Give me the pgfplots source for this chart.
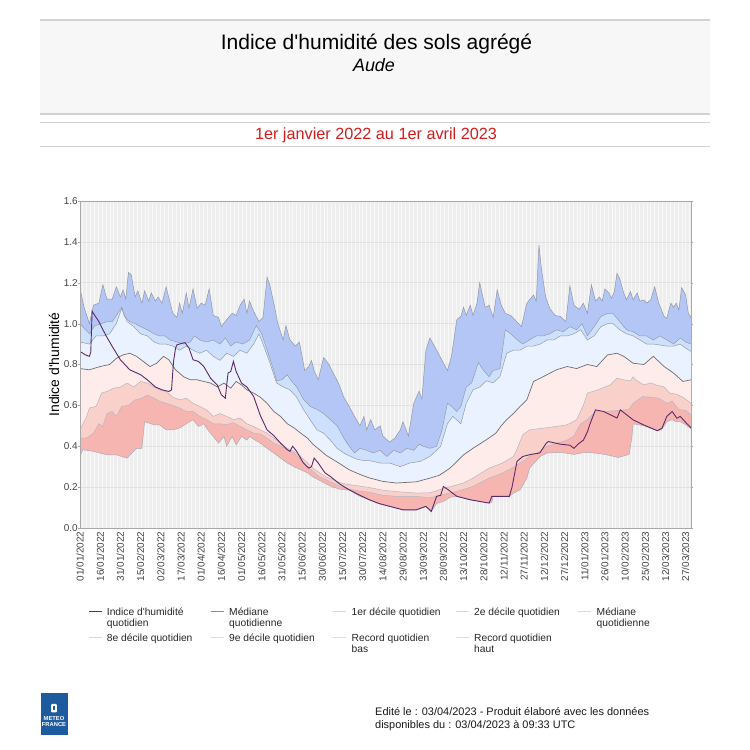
\documentclass[border=0pt]{standalone}
\usepackage{fontspec}
\setmainfont{Liberation Sans}
\usepackage{pgfplots}
\usepackage{pgfplotstable}
\pgfplotsset{compat=1.18}
\usepgfplotslibrary{fillbetween}

\definecolor{bandA}{HTML}{B4C6F5}
\definecolor{bandB}{HTML}{CDE1FF}
\definecolor{bandC}{HTML}{EAF2FF}
\definecolor{bandD}{HTML}{FDECEA}
\definecolor{bandE}{HTML}{FAD0CB}
\definecolor{bandF}{HTML}{F7B5B1}
\definecolor{edge}{HTML}{9498A6}
\definecolor{medc}{HTML}{6E6E6E}
\definecolor{idx}{HTML}{5C2A6B}
\definecolor{plotbg}{HTML}{F8F8F8}
\definecolor{vgrid}{HTML}{EEEEEE}
\definecolor{hgrid}{HTML}{E2E2E2}
\definecolor{framec}{HTML}{A8A8A8}
\definecolor{hdrbg}{HTML}{F7F7F7}
\definecolor{hdrline}{HTML}{D2D2D2}
\definecolor{redt}{HTML}{D01C1C}
\definecolor{mfblue}{HTML}{1D5A9E}
\definecolor{legl}{HTML}{D9D9D9}
\definecolor{tickt}{HTML}{444444}

\newcommand{\ap}{\textquotesingle}
\newcommand{\fs}[1]{\fontsize{#1}{#1}\selectfont}

% Record quotidien haut
\pgfplotstableread[row sep=\\]{d v\\
0 1.173\\ 3 1.08\\ 7 1.00\\ 10 1.09\\ 14 1.10\\ 17 1.19\\ 20 1.12\\ 24 1.12\\ 27 1.18\\ 30 1.13\\
32 1.165\\ 34 1.12\\ 36 1.25\\ 38 1.24\\ 41 1.13\\ 43 1.16\\ 46 1.10\\ 48 1.16\\ 51 1.11\\ 53 1.15\\
56 1.11\\ 58 1.13\\ 61 1.10\\ 64 1.18\\ 67 1.10\\ 69 1.05\\ 72 1.03\\ 74 1.10\\ 76 1.05\\ 79 1.15\\
81 1.075\\ 84 1.17\\ 87 1.075\\ 90 1.10\\ 93 1.09\\ 96 1.17\\ 99 1.04\\ 103 1.03\\ 105 0.985\\ 109 1.02\\
113 1.05\\ 116 1.04\\ 119 1.09\\ 122 1.12\\ 124 1.05\\ 126 1.11\\ 129 1.06\\ 133 1.01\\ 136 1.03\\ 139 1.227\\
141 1.19\\ 144 1.10\\ 147 1.00\\ 151 0.92\\ 153 0.99\\ 156 0.92\\ 160 0.89\\ 163 0.91\\ 167 0.77\\ 170 0.79\\
172 0.82\\ 174 0.77\\ 177 0.725\\ 181 0.834\\ 185 0.80\\ 188 0.76\\ 192 0.71\\ 196 0.64\\ 200 0.595\\ 204 0.546\\
208 0.50\\ 211 0.546\\ 213 0.48\\ 216 0.53\\ 219 0.48\\ 223 0.50\\ 225 0.45\\ 230 0.42\\ 234 0.44\\ 238 0.48\\
240 0.52\\ 244 0.45\\ 248 0.61\\ 252 0.67\\ 254 0.63\\ 257 0.87\\ 260 0.93\\ 265 0.87\\ 269 0.82\\ 273 0.77\\
276 0.84\\ 280 1.02\\ 283 1.035\\ 285 1.08\\ 287 1.04\\ 290 1.09\\ 292 1.04\\ 295 1.10\\ 297 1.20\\ 301 1.08\\
304 1.09\\ 307 1.03\\ 310 1.165\\ 313 1.09\\ 316 1.05\\ 320 1.04\\ 323 1.02\\ 328 0.985\\ 332 1.10\\ 335 1.124\\
337 1.14\\ 339 1.11\\ 341 1.385\\ 343 1.26\\ 346 1.13\\ 349 1.075\\ 353 1.04\\ 357 1.035\\ 361 1.01\\ 364 1.185\\
367 1.09\\ 371 1.07\\ 374 1.10\\ 377 1.05\\ 380 1.19\\ 383 1.11\\ 386 1.13\\ 388 1.11\\ 390 1.17\\ 393 1.15\\
395 1.124\\ 397 1.157\\ 399 1.246\\ 401 1.22\\ 404 1.15\\ 406 1.116\\ 409 1.157\\ 411 1.116\\ 414 1.15\\ 416 1.11\\
419 1.116\\ 421 1.10\\ 424 1.116\\ 427 1.18\\ 430 1.10\\ 434 1.035\\ 436 1.026\\ 439 1.10\\ 441 1.08\\ 443 1.10\\
445 1.067\\ 447 1.176\\ 450 1.14\\ 452 1.05\\ 454 1.03\\
}\tRH

% 9e decile
\pgfplotstableread[row sep=\\]{d v\\
0 1.00\\ 7 0.95\\ 11 0.99\\ 16 1.00\\ 20 1.01\\ 24 1.01\\ 28 1.05\\ 31 1.08\\ 33 1.035\\ 37 1.01\\
41 1.00\\ 45 0.985\\ 50 0.97\\ 55 0.95\\ 59 0.94\\ 63 0.94\\ 67 0.92\\ 72 0.91\\ 77 0.90\\ 82 0.91\\
85 0.94\\ 89 0.92\\ 94 0.91\\ 99 0.92\\ 104 0.90\\ 108 0.93\\ 112 0.89\\ 116 0.91\\ 121 0.90\\ 126 0.92\\
131 0.99\\ 135 0.95\\ 139 0.87\\ 144 0.77\\ 146 0.72\\ 150 0.725\\ 154 0.75\\ 157 0.72\\ 161 0.69\\ 166 0.63\\
171 0.595\\ 176 0.58\\ 181 0.56\\ 186 0.53\\ 191 0.50\\ 196 0.44\\ 200 0.40\\ 204 0.367\\ 208 0.39\\ 213 0.38\\
218 0.367\\ 223 0.38\\ 228 0.35\\ 233 0.38\\ 238 0.367\\ 243 0.39\\ 248 0.38\\ 252 0.41\\ 255 0.40\\ 260 0.39\\
265 0.40\\ 269 0.48\\ 273 0.61\\ 276 0.595\\ 280 0.57\\ 283 0.595\\ 287 0.69\\ 291 0.71\\ 296 0.81\\ 300 0.77\\
304 0.74\\ 307 0.77\\ 312 0.78\\ 316 0.97\\ 320 0.95\\ 325 0.92\\ 329 0.90\\ 334 0.92\\ 339 0.94\\ 344 0.94\\
349 0.95\\ 354 0.97\\ 359 0.96\\ 364 0.985\\ 369 0.97\\ 373 1.00\\ 377 0.94\\ 382 0.985\\ 387 1.035\\ 392 1.05\\
396 1.05\\ 401 1.01\\ 406 0.97\\ 411 0.96\\ 416 0.94\\ 421 0.94\\ 426 0.92\\ 431 0.94\\ 436 0.92\\ 441 0.90\\
446 0.93\\ 450 0.91\\ 454 0.90\\
}\tDnine

% 8e decile
\pgfplotstableread[row sep=\\]{d v\\
0 0.91\\ 7 0.90\\ 12 0.94\\ 17 0.94\\ 22 0.95\\ 27 1.00\\ 31 1.075\\ 35 1.01\\ 40 0.985\\ 45 0.95\\
50 0.94\\ 55 0.91\\ 59 0.90\\ 64 0.90\\ 69 0.89\\ 74 0.87\\ 79 0.89\\ 84 0.87\\ 89 0.855\\ 94 0.87\\
99 0.84\\ 104 0.82\\ 109 0.855\\ 114 0.84\\ 119 0.87\\ 124 0.855\\ 129 0.90\\ 133 0.95\\ 136 0.90\\ 141 0.81\\
146 0.71\\ 151 0.69\\ 156 0.676\\ 161 0.64\\ 166 0.58\\ 171 0.53\\ 176 0.48\\ 181 0.464\\ 186 0.43\\ 191 0.39\\
196 0.367\\ 201 0.35\\ 206 0.336\\ 211 0.33\\ 215 0.33\\ 223 0.318\\ 230 0.318\\ 238 0.30\\ 245 0.318\\ 253 0.326\\
260 0.35\\ 268 0.40\\ 273 0.51\\ 277 0.546\\ 283 0.51\\ 287 0.61\\ 292 0.676\\ 297 0.69\\ 302 0.72\\ 307 0.71\\
312 0.74\\ 317 0.855\\ 322 0.87\\ 327 0.87\\ 332 0.89\\ 337 0.89\\ 342 0.90\\ 347 0.92\\ 352 0.92\\ 357 0.94\\
362 0.94\\ 367 0.95\\ 372 0.97\\ 377 0.92\\ 382 0.94\\ 387 0.985\\ 392 1.00\\ 396 1.00\\ 401 0.97\\ 406 0.95\\
411 0.94\\ 416 0.92\\ 421 0.90\\ 426 0.90\\ 431 0.895\\ 436 0.89\\ 441 0.89\\ 446 0.90\\ 450 0.88\\ 454 0.864\\
}\tDeight

% Mediane
\pgfplotstableread[row sep=\\]{d v\\
0 0.78\\ 7 0.774\\ 15 0.79\\ 22 0.80\\ 27 0.83\\ 32 0.847\\ 37 0.855\\ 42 0.84\\ 47 0.815\\ 52 0.79\\
57 0.806\\ 62 0.84\\ 66 0.823\\ 71 0.774\\ 77 0.74\\ 82 0.725\\ 87 0.725\\ 92 0.717\\ 97 0.709\\ 102 0.69\\
107 0.709\\ 112 0.684\\ 116 0.717\\ 120 0.70\\ 124 0.676\\ 129 0.66\\ 134 0.64\\ 139 0.61\\ 144 0.57\\ 149 0.546\\
154 0.51\\ 159 0.49\\ 164 0.464\\ 169 0.44\\ 173 0.41\\ 178 0.383\\ 183 0.355\\ 188 0.335\\ 193 0.315\\ 200 0.285\\
208 0.262\\ 215 0.245\\ 225 0.228\\ 235 0.22\\ 250 0.226\\ 260 0.244\\ 267 0.258\\ 275 0.293\\ 285 0.358\\ 292 0.39\\
302 0.432\\ 309 0.464\\ 313 0.50\\ 317 0.53\\ 322 0.56\\ 327 0.595\\ 332 0.627\\ 337 0.717\\ 342 0.733\\ 347 0.75\\
354 0.774\\ 362 0.79\\ 369 0.78\\ 377 0.80\\ 384 0.79\\ 392 0.847\\ 399 0.855\\ 404 0.84\\ 411 0.806\\ 419 0.80\\
426 0.84\\ 434 0.79\\ 441 0.758\\ 448 0.717\\ 454 0.725\\
}\tMed

% 2e decile
\pgfplotstableread[row sep=\\]{d v\\
0 0.48\\ 5 0.546\\ 7 0.587\\ 12 0.595\\ 16 0.66\\ 20 0.668\\ 25 0.684\\ 30 0.69\\ 35 0.709\\ 40 0.69\\
45 0.717\\ 50 0.709\\ 55 0.69\\ 59 0.676\\ 64 0.668\\ 69 0.64\\ 74 0.627\\ 79 0.635\\ 84 0.61\\ 89 0.595\\
94 0.578\\ 99 0.546\\ 104 0.56\\ 109 0.546\\ 114 0.53\\ 119 0.538\\ 124 0.51\\ 129 0.497\\ 134 0.48\\ 139 0.464\\
144 0.44\\ 149 0.415\\ 154 0.39\\ 159 0.375\\ 164 0.35\\ 169 0.318\\ 173 0.293\\ 178 0.27\\ 183 0.25\\ 188 0.236\\
193 0.222\\ 200 0.212\\ 208 0.205\\ 215 0.198\\ 225 0.185\\ 235 0.178\\ 250 0.171\\ 260 0.172\\ 267 0.187\\ 271 0.195\\
285 0.22\\ 292 0.244\\ 304 0.293\\ 314 0.318\\ 322 0.35\\ 324 0.375\\ 329 0.456\\ 334 0.48\\ 346 0.49\\ 354 0.497\\
362 0.505\\ 369 0.53\\ 374 0.60\\ 377 0.66\\ 385 0.676\\ 390 0.69\\ 394 0.70\\ 399 0.733\\ 404 0.725\\ 409 0.72\\
411 0.74\\ 414 0.72\\ 419 0.70\\ 424 0.71\\ 428 0.70\\ 434 0.69\\ 438 0.66\\ 443 0.655\\ 448 0.64\\ 454 0.61\\
}\tDtwo

% 1er decile
\pgfplotstableread[row sep=\\]{d v\\
0 0.44\\ 5 0.44\\ 10 0.464\\ 14 0.51\\ 17 0.497\\ 20 0.56\\ 24 0.57\\ 27 0.546\\ 31 0.595\\ 36 0.60\\
41 0.627\\ 46 0.635\\ 50 0.65\\ 55 0.635\\ 59 0.62\\ 64 0.61\\ 69 0.60\\ 74 0.587\\ 79 0.57\\ 84 0.57\\
89 0.546\\ 94 0.53\\ 99 0.51\\ 104 0.51\\ 109 0.505\\ 114 0.515\\ 119 0.497\\ 124 0.48\\ 129 0.464\\ 134 0.46\\
139 0.44\\ 144 0.415\\ 149 0.40\\ 154 0.383\\ 159 0.367\\ 164 0.334\\ 169 0.30\\ 173 0.277\\ 178 0.25\\ 183 0.236\\
188 0.22\\ 193 0.204\\ 200 0.19\\ 208 0.18\\ 215 0.175\\ 225 0.16\\ 235 0.155\\ 250 0.155\\ 260 0.147\\ 267 0.16\\
280 0.179\\ 292 0.203\\ 304 0.244\\ 314 0.269\\ 321 0.293\\ 329 0.326\\ 334 0.35\\ 342 0.375\\ 347 0.40\\ 354 0.415\\
362 0.43\\ 367 0.45\\ 372 0.51\\ 377 0.53\\ 383 0.57\\ 390 0.57\\ 400 0.575\\ 408 0.58\\ 411 0.61\\ 418 0.643\\
424 0.64\\ 430 0.635\\ 436 0.61\\ 440 0.62\\ 445 0.58\\ 450 0.575\\ 454 0.554\\
}\tDone

% Record quotidien bas
\pgfplotstableread[row sep=\\]{d v\\
0 0.35\\ 2 0.383\\ 10 0.375\\ 20 0.358\\ 27 0.358\\ 35 0.342\\ 42 0.39\\ 46 0.39\\ 48 0.52\\ 55 0.505\\
59 0.505\\ 64 0.48\\ 69 0.48\\ 74 0.489\\ 79 0.51\\ 84 0.53\\ 88 0.497\\ 92 0.51\\ 95 0.48\\ 99 0.448\\
103 0.415\\ 107 0.448\\ 109 0.40\\ 113 0.448\\ 116 0.407\\ 120 0.448\\ 124 0.43\\ 126 0.448\\ 130 0.43\\ 134 0.415\\
139 0.39\\ 144 0.367\\ 149 0.342\\ 154 0.318\\ 159 0.30\\ 164 0.285\\ 169 0.27\\ 173 0.25\\ 178 0.233\\ 183 0.215\\
188 0.20\\ 193 0.19\\ 200 0.185\\ 208 0.155\\ 215 0.138\\ 222 0.12\\ 230 0.106\\ 240 0.089\\ 250 0.089\\ 257 0.105\\
261 0.081\\ 265 0.12\\ 270 0.13\\ 275 0.15\\ 280 0.155\\ 290 0.138\\ 304 0.122\\ 306 0.125\\ 307 0.155\\ 319 0.155\\
322 0.17\\ 327 0.187\\ 332 0.244\\ 334 0.293\\ 342 0.35\\ 347 0.367\\ 357 0.37\\ 367 0.36\\ 375 0.37\\ 381 0.368\\
390 0.36\\ 400 0.345\\ 408 0.36\\ 410 0.44\\ 411 0.51\\ 419 0.50\\ 429 0.476\\ 432 0.48\\ 436 0.52\\ 440 0.53\\
443 0.52\\ 446 0.52\\ 449 0.51\\ 454 0.485\\
}\tRB

% Indice d'humidite quotidien
\pgfplotstableread[row sep=\\]{d v\\
0 0.864\\ 4 0.847\\ 7 0.84\\ 8 0.86\\ 9 1.06\\ 14 1.01\\ 19 0.945\\ 24 0.888\\ 30 0.823\\ 37 0.774\\
45 0.75\\ 50 0.725\\ 56 0.69\\ 61 0.676\\ 66 0.668\\ 68 0.676\\ 69.5 0.815\\ 71 0.88\\ 72 0.896\\ 76 0.904\\
78 0.907\\ 81 0.88\\ 84 0.823\\ 88 0.815\\ 92 0.79\\ 97 0.733\\ 102 0.70\\ 105 0.652\\ 108 0.635\\ 109 0.70\\
110 0.758\\ 112 0.766\\ 114 0.815\\ 116 0.766\\ 120 0.709\\ 124 0.69\\ 129 0.644\\ 134 0.55\\ 139 0.48\\ 144 0.452\\
149 0.415\\ 154 0.383\\ 156 0.375\\ 158 0.40\\ 161 0.375\\ 166 0.318\\ 170 0.293\\ 172 0.30\\ 174 0.342\\ 177 0.318\\
182 0.27\\ 186 0.252\\ 193 0.215\\ 200 0.187\\ 208 0.16\\ 215 0.138\\ 222 0.12\\ 230 0.106\\ 240 0.089\\ 250 0.089\\
257 0.106\\ 261 0.081\\ 265 0.155\\ 268 0.16\\ 270 0.203\\ 273 0.19\\ 280 0.155\\ 290 0.138\\ 304 0.122\\ 306 0.155\\
319 0.155\\ 321 0.20\\ 324.7 0.326\\ 329 0.35\\ 335 0.36\\ 341.6 0.367\\ 346.5 0.415\\ 348 0.423\\ 357 0.41\\ 364 0.405\\
367 0.39\\ 370 0.41\\ 374 0.43\\ 377 0.47\\ 379 0.51\\ 383 0.578\\ 389 0.57\\ 399 0.538\\ 401.5 0.578\\ 411 0.529\\
418.6 0.505\\ 429 0.476\\ 432.5 0.489\\ 436 0.546\\ 440 0.57\\ 443.5 0.537\\ 446 0.546\\ 449.6 0.52\\ 454 0.49\\
}\tIdx

\begin{document}
\begin{tikzpicture}[x=1bp,y=1bp]
\path (0,0) rectangle (750,750);

% ---- header
\fill[hdrbg] (40,730) rectangle (710,636);
\draw[hdrline, line width=1.2bp] (40,730) -- (710,730);
\draw[hdrline, line width=1.2bp] (40,636) -- (710,636);
\draw[hdrline, line width=1.2bp] (40,627.5) -- (710,627.5);
\draw[hdrline, line width=1.2bp] (40,603.5) -- (710,603.5);
\node[anchor=base, inner sep=0] at (376.5,700) {\fs{21.1}Indice d\ap humidité des sols agrégé};
\node[anchor=base, inner sep=0] at (374,678.3) {\fs{18}\itshape Aude};
\node[anchor=base, inner sep=0, text=redt] at (376,610) {\fs{16.3}1er janvier 2022 au 1er avril 2023};

% ---- chart
\begin{axis}[
  at={(80bp,222bp)}, anchor=south west,
  scale only axis, width=611bp, height=327bp,
  set layers,
  xmin=0, xmax=454, ymin=0, ymax=1.6,
  axis background/.style={fill=plotbg},
  axis line style={draw=framec},
  xtick={0,15,...,450},
  xticklabels={01/01/2022,16/01/2022,31/01/2022,15/02/2022,02/03/2022,17/03/2022,01/04/2022,16/04/2022,01/05/2022,16/05/2022,31/05/2022,15/06/2022,30/06/2022,15/07/2022,30/07/2022,14/08/2022,29/08/2022,13/09/2022,28/09/2022,13/10/2022,28/10/2022,12/11/2022,27/11/2022,12/12/2022,27/12/2022,11/01/2023,26/01/2023,10/02/2023,25/02/2023,12/03/2023,27/03/2023},
  xticklabel style={rotate=90, anchor=east, font=\fs{10}, text=tickt, inner sep=1.5bp},
  ytick={0,0.2,0.4,0.6,0.8,1.0,1.2,1.4,1.6},
  yticklabel style={font=\fs{10}, text=tickt, inner sep=0.3bp,
     /pgf/number format/.cd, fixed, fixed zerofill, precision=1},
  /pgf/number format/assume math mode=true,
  tick align=outside, major tick length=1.8bp,
  xtick style={draw=none},
  ytick style={draw=framec},
  minor xtick={0,1,...,454},
  minor tick length=0pt,
  xminorgrids, ymajorgrids,
  minor grid style={draw=vgrid, line width=0.25bp},
  major grid style={draw=hgrid, line width=0.5bp},
  ylabel={Indice d\ap humidité},
  ylabel style={at={(axis description cs:-0.0425,0.5)}, anchor=center, font=\fs{14}},
]
\addplot[name path=rh, draw=edge, line width=0.5bp] table[x=d,y=v] {\tRH};
\addplot[name path=d9, draw=edge, line width=0.5bp] table[x=d,y=v] {\tDnine};
\addplot[name path=d8, draw=edge, line width=0.5bp] table[x=d,y=v] {\tDeight};
\addplot[name path=d2, draw=edge!70, line width=0.5bp] table[x=d,y=v] {\tDtwo};
\addplot[name path=d1, draw=edge!70, line width=0.5bp] table[x=d,y=v] {\tDone};
\addplot[name path=rb, draw=edge!80, line width=0.5bp] table[x=d,y=v] {\tRB};
\addplot[name path=med, draw=medc, line width=0.7bp] table[x=d,y=v] {\tMed};
\addplot[fill=bandA, draw=none] fill between[of=rh and d9];
\addplot[fill=bandB, draw=none] fill between[of=d9 and d8];
\addplot[fill=bandC, draw=none] fill between[of=d8 and med];
\addplot[fill=bandD, draw=none] fill between[of=med and d2];
\addplot[fill=bandE, draw=none] fill between[of=d2 and d1];
\addplot[fill=bandF, draw=none] fill between[of=d1 and rb];
\addplot[draw=idx, line width=0.9bp] table[x=d,y=v] {\tIdx};
\draw[framec, line width=0.5bp] (rel axis cs:0,0) rectangle (rel axis cs:1,1);
\end{axis}

% ---- legend
\begin{scope}[every node/.style={anchor=base west, inner sep=0, font=\fs{10.3}, text=black!85}]
\draw[idx, line width=1bp] (89,138.3) -- (102,138.3);
\node at (106.7,134.2) {Indice d\ap humidité};
\node at (106.7,123.2) {quotidien};
\draw[black!45, line width=1bp] (211,138.3) -- (224,138.3);
\node at (229,134.2) {Médiane};
\node at (229,123.2) {quotidienne};
\draw[legl, line width=1bp] (333,138.3) -- (346,138.3);
\node at (351.5,134.2) {1er décile quotidien};
\draw[legl, line width=1bp] (455.5,138.3) -- (468.5,138.3);
\node at (474,134.2) {2e décile quotidien};
\draw[legl, line width=1bp] (578,138.3) -- (591,138.3);
\node at (596.5,134.2) {Médiane};
\node at (596.5,123.2) {quotidienne};

\draw[legl, line width=1bp] (89,112.5) -- (102,112.5);
\node at (106.7,108.8) {8e décile quotidien};
\draw[legl, line width=1bp] (211,112.5) -- (224,112.5);
\node at (229,108.8) {9e décile quotidien};
\draw[legl, line width=1bp] (333,112.5) -- (346,112.5);
\node at (351.5,108.8) {Record quotidien};
\node at (351.5,97.8) {bas};
\draw[legl, line width=1bp] (455.5,112.5) -- (468.5,112.5);
\node at (474,108.8) {Record quotidien};
\node at (474,97.8) {haut};
\end{scope}

% ---- footer
\fill[mfblue] (40.5,15) rectangle (67.5,56.5);
\fill[white, rounded corners=1bp] (51.2,37.5) rectangle (56.8,46);
\fill[mfblue] (53.4,39.5) rectangle (55.2,44);
\node[anchor=base, inner sep=0, text=white] at (54,29.8) {\fs{5.8}\bfseries METEO};
\node[anchor=base, inner sep=0, text=white] at (54,23.3) {\fs{5.8}\bfseries FRANCE};
\node[anchor=base west, inner sep=0, text=black!90] at (375,34) {\fs{11}Edité le : 03/04/2023 - Produit élaboré avec les données};
\node[anchor=base west, inner sep=0, text=black!90] at (375,21) {\fs{11}disponibles du : 03/04/2023 à 09:33 UTC};
\end{tikzpicture}
\end{document}
